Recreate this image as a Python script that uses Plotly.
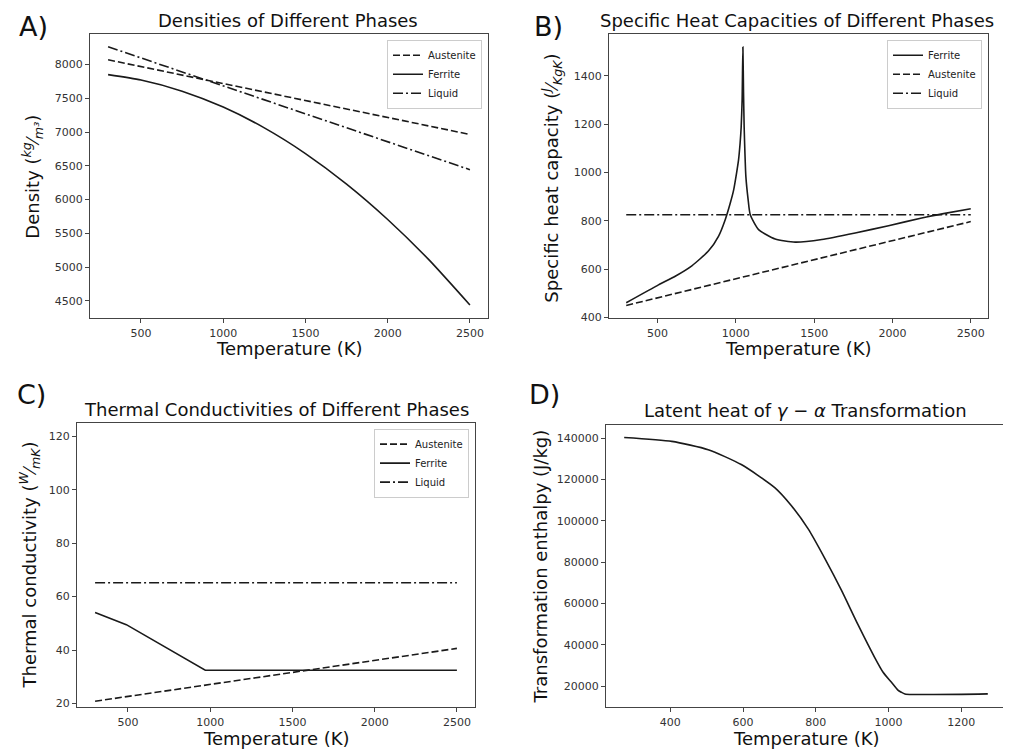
import plotly.graph_objects as go

# A) densities
temp_a = [300, 2500]
aust_density = [8070, 6965]
liquid_density = [8263, 6443]
temp_ferr_a = [300, 500, 750, 1000, 1250, 1500, 1750, 2000, 2250, 2500]
ferr_density = [7850, 7770, 7606, 7370, 7062, 6682, 6230, 5706, 5111, 4440]

# B) specific heat capacities
temp_b = [300, 2500]
aust_cp = [450, 797]
liquid_cp = [825, 825]
temp_ferr_b = [300, 506, 613, 719, 826, 889, 932, 964, 985, 1005, 1017, 1027, 1034, 1040, 1045,
               1049, 1053, 1058, 1064, 1078, 1092, 1145, 1251, 1379, 1549, 1762, 1975, 2187, 2326, 2500]
ferr_cp = [461, 535, 571, 614, 676, 736, 805, 873, 925, 1000, 1051, 1120, 1188, 1300, 1519,
           1330, 1188, 1080, 983, 890, 825, 764, 725, 712, 723, 750, 780, 812, 830, 850]

# C) thermal conductivities
temp_c = [300, 2500]
aust_k = [20.8, 40.6]
liquid_k = [65.2, 65.2]
temp_ferr_c = [300, 490, 970, 2500]
ferr_k = [54.1, 49.5, 32.4, 32.4]

# D) latent heat
temp_d = [273, 404, 504, 595, 687, 733, 779, 825, 870, 916, 962, 985, 1008, 1025, 1035, 1045, 1273]
enthalpy = [140300, 138400, 134400, 127200, 116070, 107300, 96100, 81750, 66600, 49800, 33900,
            26800, 21900, 18300, 17130, 16300, 16300]

W, H = 1011, 751
FONT = "DejaVu Sans"
INK = "#1a1a1a"
DASH = "7px,3px"
DASHDOT = "10px,3px,2px,3px"


def dom(p0, p1, total, flip=False):
    if flip:
        return [1 - p1 / total, 1 - p0 / total]
    return [p0 / total, p1 / total]


fig = go.Figure()


def line(x, y, name, dash, ax, legend, order, shape="linear"):
    fig.add_trace(go.Scatter(
        x=x, y=y, name=name, mode="lines",
        line=dict(color=INK, width=1.6, dash=dash, shape=shape, smoothing=0.6),
        xaxis="x" + ax, yaxis="y" + ax, legend=legend, legendrank=order,
        showlegend=legend is not None,
    ))


line(temp_a, aust_density, "Austenite", DASH, "", "legend", 1)
line(temp_ferr_a, ferr_density, "Ferrite", "solid", "", "legend", 2, "spline")
line(temp_a, liquid_density, "Liquid", DASHDOT, "", "legend", 3)

line(temp_ferr_b, ferr_cp, "Ferrite", "solid", "2", "legend2", 1, "spline")
line(temp_b, aust_cp, "Austenite", DASH, "2", "legend2", 2)
line(temp_b, liquid_cp, "Liquid", DASHDOT, "2", "legend2", 3)

line(temp_c, aust_k, "Austenite", DASH, "3", "legend3", 1)
line(temp_ferr_c, ferr_k, "Ferrite", "solid", "3", "legend3", 2)
line(temp_c, liquid_k, "Liquid", DASHDOT, "3", "legend3", 3)

line(temp_d, enthalpy, "Enthalpy", "solid", "4", None, 1, "spline")

axis_style = dict(showline=True, linecolor="#444", linewidth=1, mirror=True,
                  ticks="outside", ticklen=4, tickcolor="#444", showgrid=False,
                  zeroline=False, tickformat="d",
                  tickfont=dict(family=FONT, size=11, color="#333"))

boxes = {
    "": (82, 480, 26, 313, [190, 2610], [4240, 8455], list(range(500, 2501, 500)), list(range(4500, 8001, 500))),
    "2": (601, 980, 26, 313, [190, 2610], [396, 1574], list(range(500, 2501, 500)), list(range(400, 1401, 200))),
    "3": (69, 467, 418, 705, [190, 2610], [18.5, 125.2], list(range(500, 2501, 500)), list(range(20, 121, 20))),
    "4": (598, 998, 420, 705, [223, 1323], [9800, 146500], list(range(400, 1201, 200)), list(range(20000, 140001, 20000))),
}
for key, (x0, x1, y0, y1, xr, yr, xt, yt) in boxes.items():
    fig.layout["xaxis" + key] = dict(axis_style, domain=dom(x0, x1, W), range=xr,
                                     tickvals=xt, anchor="y" + key)
    fig.layout["yaxis" + key] = dict(axis_style, domain=dom(y0, y1, H, flip=True), range=yr,
                                     tickvals=yt, anchor="x" + key)

annotations = []


def text(x, y, s, size, angle=0):
    annotations.append(dict(x=x / W, y=1 - y / H, xref="paper", yref="paper", text=s,
                            showarrow=False, textangle=angle, xanchor="center", yanchor="middle",
                            font=dict(family=FONT, size=size, color="#111")))


# panel letters
text(25, 19, "A)", 27)
text(540, 19, "B)", 27)
text(23, 390, "C)", 27)
text(536, 390, "D)", 27)

# titles
text(280, 13, "Densities of Different Phases", 18)
text(789, 13, "Specific Heat Capacities of Different Phases", 18)
text(268, 405, "Thermal Conductivities of Different Phases", 18)
text(797, 406, "Latent heat of <i>γ</i> − <i>α</i> Transformation", 18)

# x titles
for cx, cy in [(281, 343), (790, 343), (268, 736), (798, 736)]:
    text(cx, cy, "Temperature (K)", 18)

# y titles
text(24, 170, "Density (<i><sup>kg</sup></i>⁄<i><sub>m³</sub></i>)", 18, -90)
text(543, 172, "Specific heat capacity (<i><sup>J</sup></i>⁄<i><sub>KgK</sub></i>)", 18, -90)
text(21, 562, "Thermal conductivity (<i><sup>W</sup></i>⁄<i><sub>mK</sub></i>)", 18, -90)
text(533, 563, "Transformation enthalpy (J/kg)", 18, -90)

legend_style = dict(bgcolor="white", bordercolor="#ccc", borderwidth=1,
                    font=dict(family=FONT, size=10, color="#222"),
                    xanchor="right", yanchor="top", itemwidth=30, tracegroupgap=0)

fig.update_layout(
    width=W, height=H,
    margin=dict(l=0, r=0, t=0, b=0),
    paper_bgcolor="white", plot_bgcolor="white",
    font=dict(family=FONT, color="#222"),
    annotations=annotations,
    legend=dict(legend_style, x=474 / W, y=1 - 32 / H),
    legend2=dict(legend_style, x=974 / W, y=1 - 32 / H),
    legend3=dict(legend_style, x=461 / W, y=1 - 424 / H),
)

fig.write_html("out.html")
